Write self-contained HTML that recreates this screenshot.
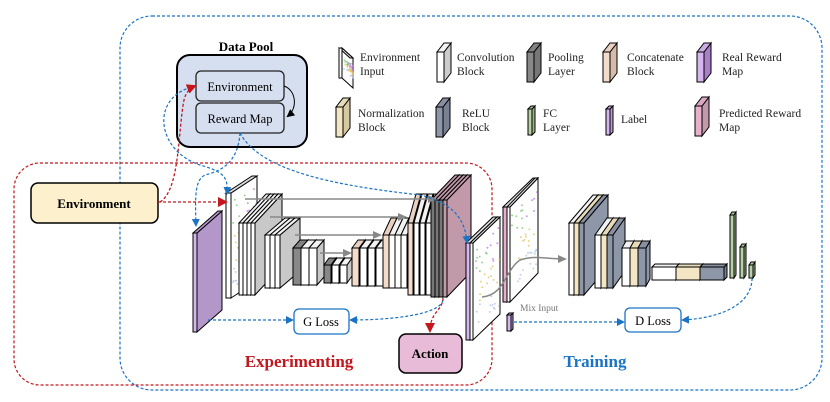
<!DOCTYPE html>
<html><head><meta charset="utf-8"><style>
html,body{margin:0;padding:0;background:#fff;}
svg{display:block;font-family:"Liberation Serif",serif;}
</style></head><body>
<svg id="s" width="830" height="402" viewBox="0 0 830 402" xmlns="http://www.w3.org/2000/svg">
<defs>
<marker id="ab" markerWidth="8" markerHeight="8" refX="6" refY="4" orient="auto" markerUnits="userSpaceOnUse"><path d="M0,0L8,4L0,8z" fill="#1a73c4"/></marker>
<marker id="ar" markerWidth="10" markerHeight="10" refX="8" refY="5" orient="auto" markerUnits="userSpaceOnUse"><path d="M0,0L10,5L0,10z" fill="#c4161c"/></marker>
<marker id="ag" markerWidth="9" markerHeight="8" refX="7" refY="4" orient="auto" markerUnits="userSpaceOnUse"><path d="M0,0L9,4L0,8z" fill="#888"/></marker>
<marker id="ak" markerWidth="8" markerHeight="8" refX="6" refY="4" orient="auto" markerUnits="userSpaceOnUse"><path d="M0,0L8,4L0,8z" fill="#000"/></marker>
</defs>
<rect x="120" y="16" width="702" height="374" rx="32" fill="none" stroke="#1a73c4" stroke-width="1.2" stroke-dasharray="3,2"/>
<rect x="14" y="163" width="478" height="222" rx="26" fill="none" stroke="#c4161c" stroke-width="1.2" stroke-dasharray="3,2"/>
<text x="246" y="51" font-size="13" font-weight="bold" text-anchor="middle">Data Pool</text>
<rect x="177" y="55" width="130" height="92" rx="13" fill="#d6dff0" stroke="#000" stroke-width="2"/>
<rect x="196" y="71" width="88" height="30" rx="5" fill="#d6dff0" stroke="#222" stroke-width="1.3"/>
<rect x="196" y="103" width="88" height="30" rx="5" fill="#d6dff0" stroke="#222" stroke-width="1.3"/>
<text x="240" y="91" font-size="12.5" text-anchor="middle">Environment</text>
<text x="240" y="123" font-size="12.5" text-anchor="middle">Reward Map</text>
<path d="M284,86 C296,90 298,108 288,116" fill="none" stroke="#000" stroke-width="1" marker-end="url(#ak)"/>
<rect x="31" y="183" width="127" height="40" rx="7" fill="#fdf0cc" stroke="#000" stroke-width="1.5"/>
<text x="94" y="208" font-size="13" font-weight="bold" text-anchor="middle">Environment</text>
<g id="slabs"></g>
<g font-size="11.5" fill="#222">
<text x="360" y="61">Environment</text><text x="360" y="75">Input</text>
<text x="457" y="61">Convolution</text><text x="457" y="75">Block</text>
<text x="548" y="61">Pooling</text><text x="548" y="75">Layer</text>
<text x="627" y="61">Concatenate</text><text x="627" y="75">Block</text>
<text x="722" y="61">Real Reward</text><text x="722" y="75">Map</text>
<text x="358" y="117">Normalization</text><text x="358" y="131">Block</text>
<text x="462" y="117">ReLU</text><text x="462" y="131">Block</text>
<text x="543" y="117">FC</text><text x="543" y="131">Layer</text>
<text x="621" y="123">Label</text>
<text x="719" y="117">Predicted Reward</text><text x="719" y="131">Map</text>
</g>
<g stroke="#888" stroke-width="1.5" fill="none">
<path d="M245,199 L435,199" marker-end="url(#ag)"/>
<path d="M270,217 L405,217" marker-end="url(#ag)"/>
<path d="M295,235 L380,235" marker-end="url(#ag)"/>
<path d="M320,253 L350,253" marker-end="url(#ag)"/>
<path d="M482,297 C505,295 505,270 520,260 C535,255 545,259 565,259" marker-end="url(#ag)"/>
</g>
<g stroke="#1a73c4" stroke-width="1.2" fill="none" stroke-dasharray="3,2">
<path d="M196,86 C150,95 155,150 200,165 C225,172 228,178 227,193" marker-end="url(#ab)"/>
<path d="M240,133 C238,160 225,170 205,175 C195,180 195,195 196,225" marker-end="url(#ab)"/>
<path d="M240,133 C260,170 330,185 420,195 C460,205 465,225 467,242" marker-end="url(#ab)"/>
<path d="M208,320 L292,320" marker-end="url(#ab)"/>
<path d="M443,300 C440,315 390,320 351,320" marker-end="url(#ab)"/>
<path d="M514,322 L623,322" marker-end="url(#ab)"/>
<path d="M752,278 C752,305 720,318 683,320" marker-end="url(#ab)"/>
</g>
<g stroke="#c4161c" stroke-width="1.3" fill="none" stroke-dasharray="3,2">
<path d="M158,202 L226,202" marker-end="url(#ar)"/>
<path d="M160,202 C180,190 178,130 184,100 C186,92 190,88 195,86" marker-end="url(#ar)"/>
<path d="M443,298 C443,310 430,312 430,331" marker-end="url(#ar)"/>
</g>
<rect x="294" y="309" width="55" height="25" rx="5" fill="#fff" stroke="#1a73c4" stroke-width="1.3"/>
<text x="321" y="326" font-size="12.5" text-anchor="middle">G Loss</text>
<rect x="625" y="308" width="56" height="24" rx="5" fill="#fff" stroke="#1a73c4" stroke-width="1.3"/>
<text x="653" y="325" font-size="12.5" text-anchor="middle">D Loss</text>
<rect x="399" y="334" width="63" height="39" rx="7" fill="#e8bcd8" stroke="#000" stroke-width="1.5"/>
<text x="430" y="358" font-size="13" font-weight="bold" text-anchor="middle">Action</text>
<text x="520" y="311" font-size="9.5" fill="#777">Mix Input</text>
<text x="299" y="367" font-size="17" font-weight="bold" fill="#c4161c" text-anchor="middle">Experimenting</text>
<text x="595" y="367" font-size="17" font-weight="bold" fill="#1a73c4" text-anchor="middle">Training</text>
</svg>
<script>
var g=document.getElementById('slabs'),out='';
var seed=7;function rnd(){seed=(seed*16807)%2147483647;return seed/2147483647;}
function shade(c,f){var n=parseInt(c.slice(1),16),r=n>>16,gg=(n>>8)&255,b=n&255;r=Math.round(r*f);gg=Math.round(gg*f);b=Math.round(b*f);return 'rgb('+r+','+gg+','+b+')';}
function slab(x,y,w,h,dx,dy,c,cs,ct){
 cs=cs||shade(c,0.85);ct=ct||shade(c,0.95);
 out+='<polygon points="'+(x+w)+','+y+' '+(x+w+dx)+','+(y-dy)+' '+(x+w+dx)+','+(y+h-dy)+' '+(x+w)+','+(y+h)+'" fill="'+cs+'" stroke="#000" stroke-width="1"/>';
 out+='<polygon points="'+x+','+y+' '+(x+dx)+','+(y-dy)+' '+(x+w+dx)+','+(y-dy)+' '+(x+w)+','+y+'" fill="'+ct+'" stroke="#000" stroke-width="1"/>';
 out+='<rect x="'+x+'" y="'+y+'" width="'+w+'" height="'+h+'" fill="'+c+'" stroke="#000" stroke-width="1"/>';
}
function map(x,y,w,h,dx,dy,c){
 slab(x,y,w,h,dx,dy,c,'#fff','#ddd');
 for(var i=0;i<40;i++){var t=rnd(),u=rnd();var px=x+w+t*dx*0.9+2,py=y-dy*t+8+u*(h-16);
 var col=u<0.4?(t<0.5?'#7ac070':'#c070e0'):(u<0.7?'#e0c060':'#b0c0e8');
 out+='<circle cx="'+px.toFixed(1)+'" cy="'+py.toFixed(1)+'" r="1" fill="'+col+'" opacity="0.7"/>';}
}
var W='#ffffff',G='#c8c8c8',D='#888888',N='#f3e6c4',C='#f4dccb',R='#8e97a8',P='#b497c9',PR='#c199a9',L='#d5b7ef',F='#b6d1a3';
map(339,48,3,30,11,-10,W);
slab(437,52,7,30,7,9,W,'#ccc');
slab(527,52,7,30,7,9,D,'#777');
slab(603,52,7,30,7,9,C,'#d6bba8');
slab(697,52,7,30,7,9,L,'#a87fc8');
slab(336,107,7,30,7,9,N,'#d6c8a0');
slab(436,107,7,30,7,9,R,'#7a8292');
slab(528,109,4,26,3,3,F);
slab(606,109,4,26,3,3,L);
slab(695,106,7,30,7,9,'#e8b0cc','#c199a9');
slab(193,233,4,99,25,22,L,P,P);
map(226,193,5,105,26,17,W);
[0,4,8,12].forEach(function(o,i){slab(239+o,223,4,72,27,29,W,G);});
[0,5,10].forEach(function(o){slab(265+o,235,5,53,20,17,W,G);});
[0,8,16].forEach(function(o,i){slab(293+o,248,8,37,7,8,i==0?D:W,G);});
[0,8,16].forEach(function(o,i){slab(324+o,265,7,18,5,7,i==0?D:W,G);});
[0,8,16,24].forEach(function(o,i){slab(352+o,248,7,38,6,8,i==0?C:W,G);});
[0,6,12,18].forEach(function(o,i){slab(383+o,235,6,53,8,17,i==0?C:W,G);});
[0,6,12,18].forEach(function(o,i){slab(408+o,223,5,72,8,29,i==0?C:W,G);});
[0,4,8,12].forEach(function(o,i){slab(431+o,200,4,97,24,25,i<3?'#777':PR,PR,PR);});
slab(466,243,4,97,27,26,L,'#fff','#ddd');map(470,243,3,97,27,26,W);
slab(503,207,4,95,30,29,'#e8b0cc','#fff','#ddd');map(507,207,3,95,28,29,W);
[0,5,10].forEach(function(o,i){slab(569+o,223,5,72,24,28,[W,N,R][i],R);});
[0,6,12].forEach(function(o,i){slab(595+o,235,6,53,12,17,[W,N,R][i],R);});
[0,8,16].forEach(function(o,i){slab(622+o,248,8,38,4,7,[W,N,R][i],R);});
slab(652,267,24,13,3,3,W);slab(676,267,24,13,3,3,N);slab(700,267,24,13,3,3,R);
slab(730,215,4,63,2,3,F);slab(740,247,4,31,2,3,F);slab(749,265,4,13,2,3,F);
slab(507,315,4,16,2,2,L);
g.innerHTML=out;
</script>
</body></html>
